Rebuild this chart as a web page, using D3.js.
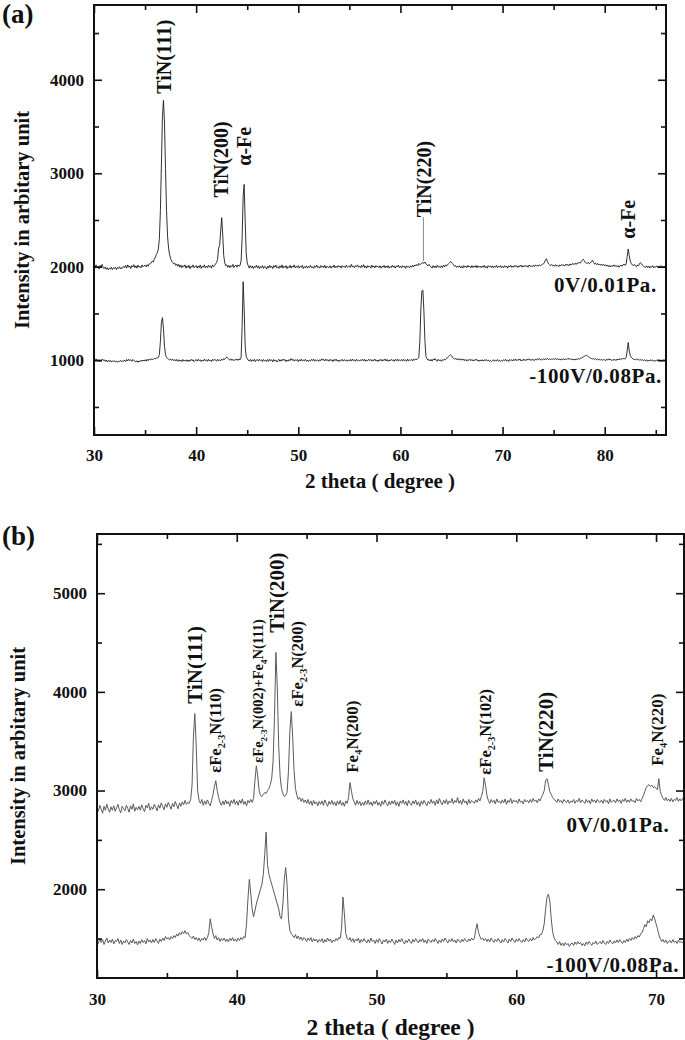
<!DOCTYPE html>
<html>
<head>
<meta charset="utf-8">
<script src="https://cdn.jsdelivr.net/npm/d3@7"></script>
<style>
  body { margin: 0; background: #fff; }
  svg text { font-family: "Liberation Serif", "Times New Roman", serif; font-weight: bold; fill: #111; }
</style>
</head>
<body>
<svg id="chart" width="685" height="1040"></svg>
<script>
// ---- panel (a) data : 2 theta from 30 to 86, step 0.1 ----
const aThetaStart = 30, aThetaStep = 0.1;
const a0V = [
  2010,1985,2020,1990,2005,1975,2015,1995,2025,1988,
  1980,1998,1972,1990,1968,1985,1975,1995,1970,1988,
  1978,1995,1970,1992,1982,2000,1975,1990,1985,2005,
  1992,2015,1985,2020,1995,2008,1980,2012,1998,2022,
  1990,2010,1985,2018,1995,2005,1988,2020,2000,2012,
  2015,1998,2022,2005,2028,2035,2040,2060,2050,2080,
  2100,2130,2150,2190,2300,2600,3100,3600,3780,3550,
  3050,2600,2330,2200,2130,2090,2060,2045,2030,2040,
  2015,2030,2005,2025,1995,2018,1990,2012,2000,2020,
  1985,2010,1992,2015,1980,2005,1995,2020,1988,2002,
  2012,1985,2008,1990,2018,1982,2005,1995,2020,1988,
  2005,1990,2015,1995,2010,1985,2020,2000,2012,2030,
  2045,2080,2200,2230,2380,2525,2350,2120,2045,2010,
  2020,1995,2015,1990,2012,2000,2025,1992,2010,2018,
  1995,2020,2005,2015,2060,2300,2750,2880,2500,2150,
  2040,2010,1985,2012,1990,2008,1980,2005,1992,2015,
  1988,2010,1978,2002,1990,2012,1982,2005,1995,1975,
  2008,1985,2015,1992,2005,1980,2012,1995,2018,1988,
  2000,1982,2010,1990,2020,1985,2005,1992,2012,1980,
  2002,1990,2015,1985,2008,1995,2020,1988,2005,1992,
  2012,1985,2005,1995,2015,1980,2002,1990,2010,1985,
  2005,1992,2015,1988,2000,1982,2010,1995,2018,1990,
  2002,1985,2012,1995,2008,1990,2015,1985,2005,1998,
  1990,2010,1985,2005,1995,2018,1988,2006,1992,2012,
  1996,2008,1985,2012,1998,2005,1990,2015,1995,2002,
  2010,1992,2025,1998,2008,1990,2012,2000,2020,1995,
  2005,1988,2015,1995,2022,1990,2008,1985,2012,1998,
  2004,1985,2018,1995,2008,1988,2012,1998,2005,1990,
  2010,1985,2005,1995,2015,1988,2008,1992,2012,1985,
  2002,1990,2015,1995,2008,1985,2010,1998,2018,1990,
  2005,1988,2012,1995,2008,1982,2010,1995,2005,1990,
  2010,1995,2015,2000,2020,2008,2025,2012,2035,2022,
  2030,2040,2045,2035,2050,2030,2020,2010,2025,2008,
  2000,1985,2012,1992,2008,1988,2015,1995,2005,1990,
  2010,1992,2015,2000,2020,2005,2025,2030,2040,2055,
  2048,2035,2020,2005,2012,1992,2008,1995,2010,1988,
  2005,1985,2012,1995,2008,1990,2015,1998,2005,1988,
  2012,1992,2008,1995,2015,1988,2010,1995,2006,1990,
  2008,1995,2015,1990,2005,1985,2012,1998,2008,1992,
  2010,1988,2005,1995,2015,1990,2008,1995,2012,1988,
  2005,1990,2012,1995,2008,1985,2010,1998,2015,1992,
  2008,1995,2015,2000,2010,1992,2012,2002,2018,1995,
  2010,1998,2015,2002,2012,1995,2018,2005,2012,2000,
  2015,2002,2020,2008,2015,2005,2022,2010,2018,2025,
  2030,2045,2075,2085,2055,2030,2020,2012,2025,2010,
  2018,2005,2022,2008,2015,2000,2020,2010,2025,2012,
  2020,2008,2028,2015,2025,2010,2030,2018,2028,2035,
  2022,2038,2025,2040,2035,2048,2038,2055,2070,2080,
  2065,2045,2040,2035,2048,2030,2040,2055,2070,2048,
  2030,2040,2022,2035,2018,2030,2015,2028,2012,2025,
  2010,2022,2005,2018,2000,2015,1998,2012,2005,2020,
  2002,2015,2000,2012,1995,2010,2018,2005,2022,2028,
  2015,2030,2110,2190,2120,2060,2035,2020,2012,2025,
  2010,2000,2020,2008,2030,2045,2032,2015,2005,1998,
  1992,2010,1990,2008,1985,2005,1995,2012,1988,2002,
  1995,2010,1990,2008,1998,2012,1992,2005,1995,2008,
  2000
];
const a100V = [
  1010,992,1015,995,1008,985,1005,990,1012,998,
  1005,988,1002,982,998,985,1000,980,992,988,
  995,980,992,978,990,985,998,982,995,988,
  1002,985,1008,992,1010,995,1005,988,1008,996,
  990,982,995,978,992,985,1000,988,1002,992,
  1005,990,1010,995,1012,1002,1015,1010,1008,1020,
  1015,1022,1025,1030,1060,1200,1400,1455,1340,1150,
  1060,1030,1018,1012,1002,1015,998,1010,995,1008,
  992,1008,988,1005,990,1002,985,1008,992,1000,
  988,1005,985,1002,990,1010,995,1005,985,998,
  1008,990,1010,994,1005,985,1002,990,1012,995,
  1005,988,1010,992,1003,985,1008,995,1012,998,
  990,1010,992,1005,995,1012,1000,1018,1008,1020,
  1035,1020,1010,1000,1015,998,1010,995,1008,1002,
  1012,998,1015,1005,1030,1350,1840,1560,1150,1040,
  1015,1000,992,1008,988,1005,990,1010,985,1002,
  1008,990,1010,995,1005,985,1008,992,1002,985,
  1008,988,1010,995,1004,982,1008,992,1002,980,
  995,1010,988,1005,992,1012,998,1008,985,1002,
  990,1008,995,1018,1000,1010,990,1005,995,1008,
  985,1005,992,1012,990,1003,995,1010,988,1002,
  985,1002,992,1010,995,1012,988,1005,995,1003,
  988,1005,995,1015,1000,1008,992,1012,995,1005,
  990,1010,995,1005,985,1008,995,1012,990,1002,
  985,1002,995,1010,990,1005,996,1003,988,1004,
  992,1008,990,1012,995,1004,988,1010,995,1002,
  990,1005,995,1012,992,1008,988,1002,995,1010,
  996,1008,990,1005,995,1012,992,1003,986,1005,
  995,1010,990,1005,996,1014,992,1008,988,1003,
  992,1010,996,1005,988,1008,995,1012,990,1005,
  995,1008,990,1010,995,1004,988,1012,992,1002,
  1000,1010,992,1012,1002,1015,1005,1018,1030,1200,
  1550,1740,1750,1520,1200,1040,1015,1000,1008,992,
  1008,990,1012,1002,1018,998,988,1010,995,1005,
  988,1005,998,1012,1005,1020,1025,1040,1050,1058,
  1048,1032,1020,1010,1022,1005,1018,1002,1015,1000,
  1015,1000,1012,995,1008,992,1006,998,1010,995,
  1008,992,1005,996,1012,995,1004,988,1002,992,
  1006,990,1004,995,1008,992,1002,988,998,985,
  995,1005,988,1002,992,1008,990,1000,986,998,
  990,1005,995,1010,992,1002,986,1008,996,1005,
  992,1010,996,1012,995,1008,1000,1014,992,1005,
  996,1012,995,1008,1000,1015,1004,1010,996,1012,
  1005,995,1012,1002,1015,1006,1018,1002,1012,1005,
  1015,1002,1018,1008,1020,1005,1016,1004,1015,1008,
  1018,1006,1020,1010,1015,1003,1015,1002,1012,1006,
  1016,1004,1015,1008,1020,1010,1018,1006,1015,1004,
  1010,1002,1015,1006,1018,1010,1020,1022,1028,1035,
  1042,1048,1052,1045,1038,1030,1022,1018,1012,1020,
  1008,1018,1005,1015,1002,1012,1000,1010,998,1008,
  1005,995,1012,1002,1015,1002,1010,995,1008,1000,
  1010,996,1012,1002,1016,1006,1018,1008,1020,1015,
  1015,1030,1100,1190,1100,1050,1030,1018,1012,1008,
  1005,1015,1002,1012,1000,1010,995,1008,995,1005,
  992,1005,988,1002,990,1006,995,1002,988,998,
  990,1005,995,1008,992,1003,988,1006,996,1004,
  1000
];
const aXTicks = [30, 40, 50, 60, 70, 80];
const aXMinor = [35, 45, 55, 65, 75, 85];
const aYTicks = [1000, 2000, 3000, 4000];
const aYMinor = [500, 1500, 2500, 3500, 4500];
const aPeakLabels = ["TiN(111)", "TiN(200)", "\u03b1-Fe", "TiN(220)", "\u03b1-Fe"];
const aPeakTheta = [36.85, 42.45, 44.7, 62.35, 82.3];
const aPeakAt = [3850, 2740, 3080, 2530, 2300];
const aLeaderTheta = [62.25];
const aLeaderFrom = [2060];
const aLeaderTo = [2530];

// ---- panel (b) data : 2 theta from 30 to 72, step 0.1 ----
const bThetaStart = 30, bThetaStep = 0.1;
const b0V = [
  2830,2790,2850,2810,2770,2840,2800,2860,2815,2780,
  2835,2800,2845,2790,2825,2860,2805,2775,2840,2815,
  2795,2850,2820,2780,2845,2810,2865,2790,2830,2805,
  2840,2800,2855,2815,2785,2850,2825,2870,2800,2835,
  2810,2860,2830,2795,2855,2820,2875,2840,2805,2865,
  2830,2880,2845,2810,2870,2835,2890,2850,2815,2875,
  2840,2885,2855,2900,2860,2880,2870,2910,3050,3550,
  3780,3450,3000,2900,2870,2910,2850,2895,2860,2905,
  2870,2845,2900,2960,3040,3100,3000,2930,2880,2850,
  2895,2855,2905,2865,2890,2840,2900,2870,2910,2860,
  2895,2850,2905,2870,2915,2860,2890,2845,2900,2875,
  2910,2880,2920,3100,3250,3150,3000,2950,2940,2960,
  2980,2970,3000,3020,3060,3120,3300,3750,4400,4050,
  3450,3150,3020,2970,2940,2950,2980,3200,3600,3800,
  3550,3200,3020,2950,2910,2930,2890,2920,2880,2905,
  2870,2910,2860,2895,2850,2900,2865,2885,2845,2890,
  2860,2895,2850,2905,2870,2840,2890,2860,2900,2855,
  2885,2845,2895,2860,2900,2850,2880,2840,2895,2870,
  2930,3080,3000,2920,2885,2850,2900,2860,2890,2845,
  2880,2850,2895,2860,2905,2855,2885,2845,2890,2865,
  2900,2850,2880,2840,2895,2860,2905,2870,2845,2890,
  2855,2895,2865,2900,2850,2885,2840,2895,2870,2905,
  2860,2890,2845,2900,2870,2850,2895,2865,2905,2855,
  2885,2840,2895,2860,2900,2870,2845,2890,2865,2910,
  2870,2895,2850,2905,2865,2920,2880,2855,2900,2870,
  2910,2860,2895,2875,2920,2865,2900,2880,2930,2870,
  2900,2860,2915,2875,2895,2855,2910,2870,2900,2885,
  2870,2905,2880,2920,2895,2940,2990,3130,3050,2950,
  2900,2870,2910,2880,2900,2865,2915,2880,2895,2870,
  2905,2875,2915,2860,2900,2880,2920,2870,2905,2885,
  2900,2870,2915,2880,2895,2865,2910,2885,2900,2875,
  2910,2880,2920,2890,2905,2875,2915,2895,2930,2960,
  3000,3100,3120,3060,2990,2960,2930,2910,2900,2880,
  2915,2885,2900,2870,2910,2890,2880,2905,2870,2895,
  2880,2910,2870,2900,2885,2920,2875,2905,2890,2870,
  2910,2880,2900,2865,2915,2885,2905,2875,2910,2890,
  2880,2905,2870,2910,2885,2900,2865,2915,2880,2895,
  2900,2875,2915,2885,2905,2870,2910,2890,2920,2880,
  2905,2880,2915,2890,2900,2875,2920,2895,2910,2885,
  2920,2950,2990,3030,3050,3060,3040,3055,3030,3040,
  3020,3010,3120,2990,2950,2920,2900,2930,2895,2915,
  2890,2920,2885,2910,2900,2930,2890,2915,2895,2920,
  2900
];
const b100V = [
  1480,1450,1500,1460,1490,1440,1475,1505,1455,1485,
  1460,1495,1445,1480,1470,1500,1450,1485,1440,1475,
  1455,1490,1465,1440,1480,1455,1495,1450,1470,1435,
  1475,1450,1490,1460,1480,1445,1500,1465,1485,1455,
  1490,1460,1500,1475,1450,1495,1470,1505,1480,1520,
  1495,1510,1485,1520,1500,1530,1510,1545,1525,1560,
  1540,1570,1550,1580,1545,1560,1530,1515,1500,1525,
  1490,1510,1480,1505,1470,1500,1485,1515,1480,1510,
  1560,1700,1620,1550,1500,1530,1485,1510,1470,1500,
  1480,1505,1470,1495,1465,1500,1480,1510,1475,1495,
  1470,1505,1480,1510,1490,1520,1510,1650,1900,2100,
  1960,1800,1720,1780,1850,1900,1950,2000,2050,2150,
  2350,2580,2250,2150,2100,2050,2000,1950,1900,1850,
  1800,1720,1700,1850,2100,2220,2050,1700,1580,1550,
  1530,1510,1540,1500,1525,1490,1515,1480,1510,1495,
  1470,1505,1480,1510,1465,1500,1475,1495,1460,1490,
  1470,1500,1455,1490,1465,1505,1475,1495,1460,1485,
  1470,1500,1480,1510,1500,1600,1920,1750,1550,1500,
  1485,1510,1470,1500,1460,1495,1475,1505,1455,1490,
  1465,1500,1475,1455,1490,1460,1505,1470,1485,1450,
  1490,1460,1500,1470,1445,1485,1465,1495,1450,1480,
  1460,1495,1470,1440,1485,1455,1490,1465,1500,1470,
  1445,1480,1460,1495,1470,1450,1490,1465,1500,1475,
  1455,1490,1470,1500,1460,1485,1450,1495,1475,1460,
  1490,1465,1500,1475,1450,1485,1460,1495,1470,1505,
  1480,1455,1490,1470,1500,1465,1485,1455,1495,1475,
  1460,1490,1470,1500,1480,1465,1495,1475,1505,1485,
  1500,1590,1650,1560,1520,1490,1505,1480,1500,1470,
  1495,1465,1505,1480,1460,1490,1470,1500,1475,1455,
  1490,1465,1500,1480,1455,1495,1470,1505,1480,1460,
  1495,1470,1500,1475,1460,1490,1465,1505,1480,1470,
  1500,1475,1510,1485,1500,1520,1505,1540,1540,1580,
  1650,1800,1920,1950,1880,1700,1570,1510,1480,1465,
  1440,1470,1430,1455,1425,1460,1435,1450,1420,1445,
  1455,1430,1465,1440,1470,1445,1460,1430,1450,1425,
  1465,1440,1470,1450,1430,1460,1445,1475,1440,1455,
  1470,1445,1480,1455,1440,1470,1450,1485,1460,1445,
  1475,1455,1485,1460,1490,1465,1450,1480,1460,1495,
  1470,1500,1480,1510,1490,1520,1500,1530,1515,1550,
  1560,1600,1640,1620,1680,1660,1700,1680,1740,1700,
  1650,1600,1540,1500,1470,1490,1460,1485,1450,1470,
  1480,1455,1490,1460,1475,1450,1485,1460,1470,1455,
  1475
];
const bXTicks = [30, 40, 50, 60, 70];
const bXMinor = [35, 45, 55, 65];
const bYTicks = [2000, 3000, 4000, 5000];
const bYMinor = [1500, 2500, 3500, 4500, 5500];
const bPeakLabels = ["TiN(111)", "\u03b5Fe_2-3_N(110)", "\u03b5Fe_2-3_N(002)+Fe_4_N(111)", "TiN(200)",
  "\u03b5Fe_2-3_N(200)", "Fe_4_N(200)", "\u03b5Fe_2-3_N(102)", "TiN(220)", "Fe_4_N(220)"];
const bPeakTheta = [37.0, 38.45, 41.55, 42.9, 44.35, 48.25, 57.8, 62.15, 70.1];
const bPeakAt = [3880, 3180, 3280, 4600, 3850, 3180, 3160, 3190, 3250];

const seriesNames = ["0V/0.01Pa.", "-100V/0.08Pa."];
const aNameTheta = [85.1, 85.6];
const aNameAt = [1726, 755];
const bNameTheta = [70.95, 71.65];
const bNameAt = [2581, 1160];

let svg = d3.select("#chart");

function peakFont(text, panel) {
  if (panel == "a") return 20;
  if (text.startsWith("TiN")) return 21;
  if (text.includes("+")) return 14.5;
  if (text.startsWith("\u03b5")) return 16.5;
  return 17;
}

function peakLabel(g, text, px, py, size) {
  let t = g.append("text")
    .attr("transform", `translate(${px + size * 0.34},${py}) rotate(-90)`)
    .attr("font-size", size);
  text.split("_").forEach(function(part, i) {
    let s = t.append("tspan").text(part);
    if (i % 2 == 1) {
      s.attr("font-size", size * 0.62).attr("dy", size * 0.25);
    } else if (i > 0) {
      s.attr("dy", -size * 0.25);
    }
  });
}

function drawPanel(p) {
  let g = svg.append("g");
  let x = d3.scaleLinear().domain(p.xDomain).range([p.left, p.right]);
  let y = d3.scaleLinear().domain(p.yDomain).range([p.bottom, p.top]);

  let clipId = "clip-" + p.name;
  svg.append("clipPath").attr("id", clipId)
    .append("rect").attr("x", p.left).attr("y", p.top)
    .attr("width", p.right - p.left).attr("height", p.bottom - p.top);

  // traces
  p.series.forEach(function(vals) {
    let line = d3.line()
      .x((d, i) => x(p.start + i * p.step))
      .y(d => y(d));
    g.append("path").datum(vals)
      .attr("clip-path", `url(#${clipId})`)
      .attr("d", line)
      .attr("fill", "none")
      .attr("stroke", p.color)
      .attr("stroke-width", p.lineWidth)
      .attr("stroke-linejoin", "round");
  });

  // ticks on all four sides, pointing inwards
  let axes = [
    [d3.axisBottom(x), p.bottom, "x", true],
    [d3.axisTop(x), p.top, "x", false],
    [d3.axisLeft(y), p.left, "y", true],
    [d3.axisRight(y), p.right, "y", false]
  ];
  axes.forEach(function([ax, pos, dir, labelled]) {
    let major = dir == "x" ? p.xTicks : p.yTicks;
    let minor = dir == "x" ? p.xMinor : p.yMinor;
    let tr = dir == "x" ? `translate(0,${pos})` : `translate(${pos},0)`;
    let a1 = g.append("g").attr("transform", tr)
      .call(ax.tickValues(major).tickSize(-8)
        .tickPadding(dir == "x" ? p.xPad : 10)
        .tickFormat(labelled ? d3.format("d") : ""));
    let a2 = g.append("g").attr("transform", tr)
      .call(ax.tickValues(minor).tickSize(-5).tickFormat(""));
    [a1, a2].forEach(function(a) {
      a.select(".domain").remove();
      a.selectAll("line").attr("stroke", "#111").attr("stroke-width", 1.6);
      a.selectAll("text").attr("font-size", 17).attr("font-family", null).attr("fill", "#111");
    });
  });

  g.append("rect")
    .attr("x", p.left).attr("y", p.top)
    .attr("width", p.right - p.left).attr("height", p.bottom - p.top)
    .attr("fill", "none").attr("stroke", "#111").attr("stroke-width", 2);

  // leader lines
  (p.leaderTheta || []).forEach(function(t, i) {
    g.append("line")
      .attr("x1", x(t)).attr("x2", x(t))
      .attr("y1", y(p.leaderFrom[i])).attr("y2", y(p.leaderTo[i]))
      .attr("stroke", "#888").attr("stroke-width", 1);
  });

  // peak labels
  p.peakLabels.forEach(function(txt, i) {
    peakLabel(g, txt, x(p.peakTheta[i]), y(p.peakAt[i]), peakFont(txt, p.name));
  });

  // sample names
  seriesNames.forEach(function(nm, i) {
    g.append("text")
      .attr("x", x(p.nameTheta[i])).attr("y", y(p.nameAt[i]))
      .attr("text-anchor", "end")
      .attr("font-size", 21)
      .attr("letter-spacing", 0.6)
      .text(nm);
  });

  // axis titles
  g.append("text")
    .attr("x", (p.left + p.right) / 2).attr("y", p.xTitleY)
    .attr("text-anchor", "middle")
    .attr("font-size", p.xTitleSize)
    .text("2 theta ( degree )");
  g.append("text")
    .attr("transform", `translate(${p.yTitleX},${(p.top + p.bottom) / 2}) rotate(-90)`)
    .attr("text-anchor", "middle")
    .attr("font-size", 20.5)
    .text("Intensity in arbitary unit");

  // panel letter
  g.append("text")
    .attr("x", 2).attr("y", p.letterY)
    .attr("font-size", 27)
    .text(`(${p.name})`);
}

drawPanel({
  name: "a", left: 94, right: 666, top: 5, bottom: 435,
  xDomain: [30, 86], yDomain: [200, 4800],
  xTicks: aXTicks, xMinor: aXMinor, yTicks: aYTicks, yMinor: aYMinor,
  start: aThetaStart, step: aThetaStep, series: [a0V, a100V],
  color: "#1a1a1a", lineWidth: 0.9, xPad: 14,
  peakLabels: aPeakLabels, peakTheta: aPeakTheta, peakAt: aPeakAt,
  leaderTheta: aLeaderTheta, leaderFrom: aLeaderFrom, leaderTo: aLeaderTo,
  nameTheta: aNameTheta, nameAt: aNameAt,
  xTitleY: 488, xTitleSize: 21, yTitleX: 29, letterY: 23
});

drawPanel({
  name: "b", left: 97, right: 684, top: 534, bottom: 978,
  xDomain: [30, 72], yDomain: [1100, 5600],
  xTicks: bXTicks, xMinor: bXMinor, yTicks: bYTicks, yMinor: bYMinor,
  start: bThetaStart, step: bThetaStep, series: [b0V, b100V],
  color: "#5a5a5a", lineWidth: 1.0, xPad: 15,
  peakLabels: bPeakLabels, peakTheta: bPeakTheta, peakAt: bPeakAt,
  nameTheta: bNameTheta, nameAt: bNameAt,
  xTitleY: 1035, xTitleSize: 23.5, yTitleX: 25, letterY: 545
});
</script>
</body>
</html>
